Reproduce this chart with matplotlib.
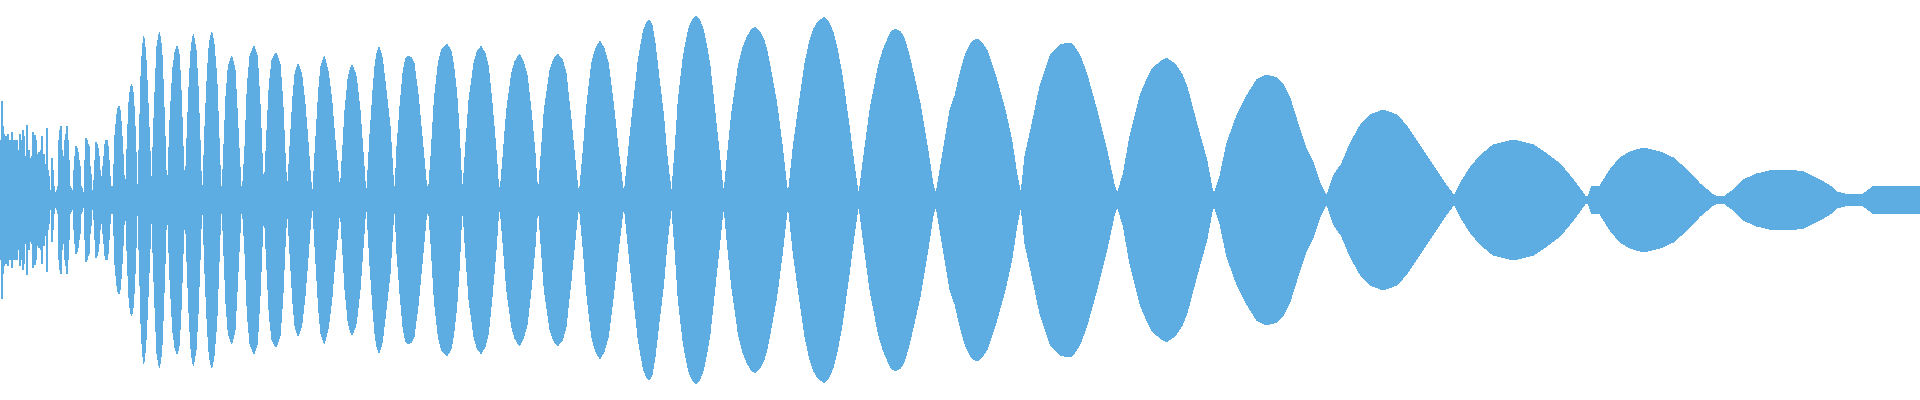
import matplotlib

matplotlib.use("Agg")

import matplotlib.pyplot as plt

# Waveform envelope: column position (0..1920)
# and peak amplitude (0..1, drawn mirrored around zero).
COLUMNS = [
    0, 1, 2, 3, 4, 5, 6, 7, 8, 9, 10, 11, 12, 13, 14, 15, 16, 17, 18, 19,
    20, 21, 22, 23, 24, 25, 26, 27, 28, 29, 30, 31, 32, 33, 34, 35, 36, 37,
    38, 39, 40, 41, 42, 43, 44, 45, 46, 47, 48, 49, 50, 51, 52, 53, 54, 55,
    56, 57, 58, 59, 60, 61, 62, 63, 64, 65, 66, 67, 68, 69, 70, 71, 72, 73,
    74, 75, 76, 77, 78, 79, 80, 81, 82, 83, 84, 85, 86, 87, 88, 89, 90, 91,
    92, 93, 94, 95, 96, 97, 98, 99, 100, 101, 102, 103, 104, 105, 106, 107,
    108, 109, 110, 111, 112, 113,
    115, 116.7, 118, 119, 120.3, 121.7, 123.3, 124.7, 125.5,
    127.3, 129, 130.5, 131.7, 133, 134, 135.7, 136.7, 137.7,
    139.3, 141, 142.3, 143.7, 145.7, 147.3, 149.3, 151, 151.7,
    153.3, 155.3, 157, 159.3, 161.7, 163.3, 165, 166.3, 167.3,
    170, 172.7, 175, 177.3, 179.3, 181.3, 183, 185,
    187.3, 189.3, 191.3, 193.3, 196, 198, 200, 201.3, 202.7,
    205, 207.3, 209.3, 211.7, 214, 216.7, 218.7, 220.7, 222,
    224, 226, 228.3, 231.7, 235, 237.3, 239.3, 241, 242.3,
    245, 247.3, 250, 254, 257.3, 260, 262.3, 264,
    266.7, 269.3, 272, 276, 280, 282.7, 285.3, 287.3,
    290, 292.7, 295, 298, 301.7, 305, 308.3, 310.7, 312.7,
    316, 318.7, 321, 324.3, 328.3, 331.7, 335, 338.3, 340,
    342.7, 345, 348.3, 351.7, 355, 356.7, 360, 363.3, 365.3, 366.7,
    370, 371.7, 373.3, 375, 376.7, 379, 381.7, 383.3, 386.7, 390, 391.7,
    393.3, 395,
    396.7, 400, 403.3, 406, 408.3, 411.7, 414, 418.3, 421.7, 426, 428.3,
    431, 434.3, 438.3, 441.7, 446.7, 450.7, 453.3, 456.7, 459.3, 461, 462.7,
    465.7, 469, 474, 477.3, 481, 485, 488.3, 492.3, 496, 498.3, 500,
    503.3, 506.7, 511.7, 515, 519.3, 523.3, 527.3, 531.7, 535, 537.3, 538.3,
    541, 544.3, 550, 553.3, 557.7, 562.3, 566, 570.7, 575, 577.7, 579.3,
    583.3, 586.7, 591.7, 595.7, 600, 604, 608.3, 613.3, 618.3, 622.7, 624.3,
    626, 631.7, 635, 638.3, 640, 643.3, 646.7, 649, 651.7, 655, 660, 663.3,
    666.7, 669.3, 671.7,
    675, 678.3, 683.3, 686.7, 689.3, 692.7, 696, 699.3, 703.3, 706.7, 710,
    715, 720, 722.7, 724,
    727.3, 731.7, 738.3, 743.3, 746.7, 750.7, 755, 759.3, 763.3, 766.7, 770,
    776.7, 782.7, 786.7, 788.3,
    793.3, 798.3, 805, 810, 813.3, 818.3, 824.3, 829.3, 833.3, 837.3, 841.7,
    848.3, 854.3, 857.7, 859,
    863.3, 870, 878.3, 882.7, 886.7, 890.7, 895, 900, 903.3, 907.7, 911.7,
    920, 927.3, 933.3, 936,
    943.3, 950, 955, 960, 965, 970, 973.3, 977.3, 981, 986.7, 991.7, 996.7,
    1005, 1011.7, 1016.7, 1020, 1021,
    1025, 1031.7, 1040, 1050, 1055, 1060, 1066.7, 1072, 1075, 1080, 1086.7,
    1096.7, 1106.7, 1114, 1117.3,
    1123.3, 1130, 1140, 1146.7, 1151.7, 1160, 1166.7, 1175, 1181.7, 1186.7,
    1196.7, 1206.7, 1212.3, 1214.3,
    1220, 1226.7, 1236.7, 1246.7, 1256.7, 1266.7, 1276.7, 1280, 1283.3,
    1290, 1296.7, 1303.3, 1306.7, 1313.3, 1320, 1323.3, 1326.7,
    1330, 1333.3, 1341.7, 1350, 1360, 1370, 1383.3, 1396.7, 1406.7, 1420,
    1433.3, 1446.7, 1454,
    1460, 1470, 1480, 1493.3, 1513.3, 1533.3, 1546.7, 1560, 1573.3, 1585,
    1588.3,
    1591.7, 1600, 1610, 1620, 1630, 1643.3, 1660, 1673.3, 1686.7, 1700,
    1713.3, 1718.3, 1725,
    1733.3, 1743.3, 1756.7, 1773.3, 1790, 1803.3, 1813.3, 1823.3, 1830,
    1836.7, 1845, 1855, 1863,
    1866.7, 1873.3, 1883.3, 1900, 1917, 1920,
]

PEAKS = [
    0.18, 0.30, 0.495, 0.37, 0.33, 0.12, 0.32, 0.30, 0.33, 0.22, 0.30, 0.22,
    0.34, 0.30, 0.20, 0.30, 0.27, 0.30, 0.20, 0.25, 0.33, 0.30, 0.27, 0.35,
    0.32, 0.22, 0.20, 0.375, 0.22, 0.25, 0.21, 0.20, 0.22, 0.34, 0.25, 0.325,
    0.30, 0.23, 0.20, 0.24, 0.22, 0.25, 0.32, 0.20, 0.23, 0.15, 0.18, 0.36,
    0.15, 0.12, 0.05, 0.05, 0.21, 0.15, 0.07, 0.03, 0.04, 0.05, 0.07, 0.30,
    0.35, 0.37, 0.25, 0.22, 0.15, 0.30, 0.33, 0.37, 0.30, 0.20, 0.07, 0.06,
    0.05, 0.05, 0.15, 0.22, 0.27, 0.26, 0.24, 0.20, 0.17, 0.07, 0.06, 0.03,
    0.04, 0.20, 0.31, 0.30, 0.28, 0.27, 0.17, 0.13, 0.05, 0.05, 0.10, 0.20,
    0.29, 0.28, 0.26, 0.22, 0.15, 0.12, 0.05, 0.17, 0.22, 0.28, 0.30, 0.30,
    0.27, 0.20, 0.12, 0.05, 0.07, 0.03,
    0.325, 0.42, 0.46, 0.47, 0.44, 0.35, 0.20, 0.05, 0.03,
    0.30, 0.49, 0.56, 0.58, 0.54, 0.47, 0.30, 0.10, 0.03,
    0.30, 0.62, 0.75, 0.82, 0.73, 0.57, 0.33, 0.12, 0.03,
    0.32, 0.58, 0.77, 0.84, 0.76, 0.57, 0.32, 0.10, 0.03,
    0.40, 0.65, 0.74, 0.77, 0.72, 0.52, 0.27, 0.03,
    0.35, 0.60, 0.77, 0.83, 0.75, 0.57, 0.30, 0.10, 0.03,
    0.37, 0.63, 0.78, 0.84, 0.78, 0.62, 0.35, 0.08, 0.03,
    0.28, 0.52, 0.67, 0.72, 0.65, 0.43, 0.23, 0.07, 0.03,
    0.27, 0.57, 0.72, 0.77, 0.72, 0.48, 0.20, 0.03,
    0.32, 0.58, 0.70, 0.735, 0.68, 0.50, 0.20, 0.03,
    0.27, 0.50, 0.63, 0.68, 0.63, 0.48, 0.27, 0.10, 0.03,
    0.32, 0.55, 0.67, 0.717, 0.64, 0.50, 0.30, 0.13, 0.03,
    0.25, 0.45, 0.617, 0.675, 0.64, 0.60, 0.45, 0.22, 0.07, 0.03,
    0.33, 0.45, 0.57, 0.67, 0.73, 0.762, 0.725, 0.667, 0.517, 0.367, 0.233,
    0.10, 0.03,
    0.25, 0.467, 0.65, 0.708, 0.72, 0.708, 0.683, 0.517, 0.333, 0.10, 0.03,
    0.217, 0.50, 0.683, 0.75, 0.778, 0.75, 0.683, 0.533, 0.333, 0.15, 0.03,
    0.267, 0.50, 0.683, 0.742, 0.767, 0.733, 0.667, 0.467, 0.25, 0.083, 0.03,
    0.233, 0.45, 0.633, 0.692, 0.728, 0.692, 0.617, 0.417, 0.233, 0.067, 0.03,
    0.217, 0.45, 0.65, 0.70, 0.728, 0.70, 0.633, 0.417, 0.20, 0.067, 0.03,
    0.25, 0.467, 0.683, 0.758, 0.792, 0.758, 0.683, 0.483, 0.25, 0.067, 0.03,
    0.12, 0.40, 0.55, 0.70, 0.75, 0.842, 0.887, 0.897, 0.88, 0.783, 0.567,
    0.433, 0.233, 0.117, 0.03,
    0.25, 0.50, 0.717, 0.808, 0.867, 0.903, 0.917, 0.903, 0.85, 0.767, 0.667,
    0.433, 0.20, 0.067, 0.03,
    0.217, 0.433, 0.667, 0.767, 0.808, 0.847, 0.863, 0.842, 0.808, 0.75,
    0.667, 0.483, 0.25, 0.067, 0.03,
    0.267, 0.45, 0.683, 0.80, 0.85, 0.892, 0.913, 0.883, 0.833, 0.75, 0.633,
    0.40, 0.167, 0.05, 0.03,
    0.20, 0.45, 0.667, 0.742, 0.792, 0.837, 0.853, 0.842, 0.817, 0.75, 0.667,
    0.483, 0.267, 0.067, 0.03,
    0.25, 0.45, 0.52, 0.63, 0.72, 0.775, 0.795, 0.803, 0.79, 0.75, 0.68, 0.60,
    0.45, 0.30, 0.13, 0.05, 0.03,
    0.22, 0.37, 0.57, 0.72, 0.75, 0.775, 0.783, 0.78, 0.76, 0.72, 0.63,
    0.45, 0.25, 0.08, 0.03,
    0.13, 0.32, 0.52, 0.60, 0.65, 0.69, 0.708, 0.68, 0.63, 0.57,
    0.38, 0.20, 0.05, 0.03,
    0.12, 0.28, 0.42, 0.52, 0.60, 0.625, 0.61, 0.592, 0.575,
    0.508, 0.40, 0.30, 0.25, 0.183, 0.083, 0.05, 0.02,
    0.07, 0.12, 0.18, 0.28, 0.37, 0.425, 0.45, 0.425, 0.37, 0.27,
    0.17, 0.07, 0.02,
    0.08, 0.16, 0.22, 0.275, 0.30, 0.275, 0.23, 0.18, 0.10, 0.02,
    0.02,
    0.07, 0.07, 0.15, 0.21, 0.24, 0.26, 0.24, 0.21, 0.15, 0.08,
    0.025, 0.015, 0.02,
    0.05, 0.10, 0.13, 0.15, 0.15, 0.14, 0.117, 0.09, 0.07,
    0.04, 0.03, 0.03, 0.03,
    0.04, 0.07, 0.07, 0.065, 0.07, 0.07,
]

WAVE_COLOR = "#5dade2"

lower = [-p for p in PEAKS]

fig = plt.figure(figsize=(19.2, 4.0), dpi=100)
ax = fig.add_axes([0, 0, 1, 1])
ax.fill_between(
    COLUMNS, lower, PEAKS, color=WAVE_COLOR, linewidth=0, antialiased=False
)
ax.set_xlim(0, 1920)
ax.set_ylim(-1, 1)
ax.axis("off")
fig.savefig("out.png", dpi=100, facecolor="white")
